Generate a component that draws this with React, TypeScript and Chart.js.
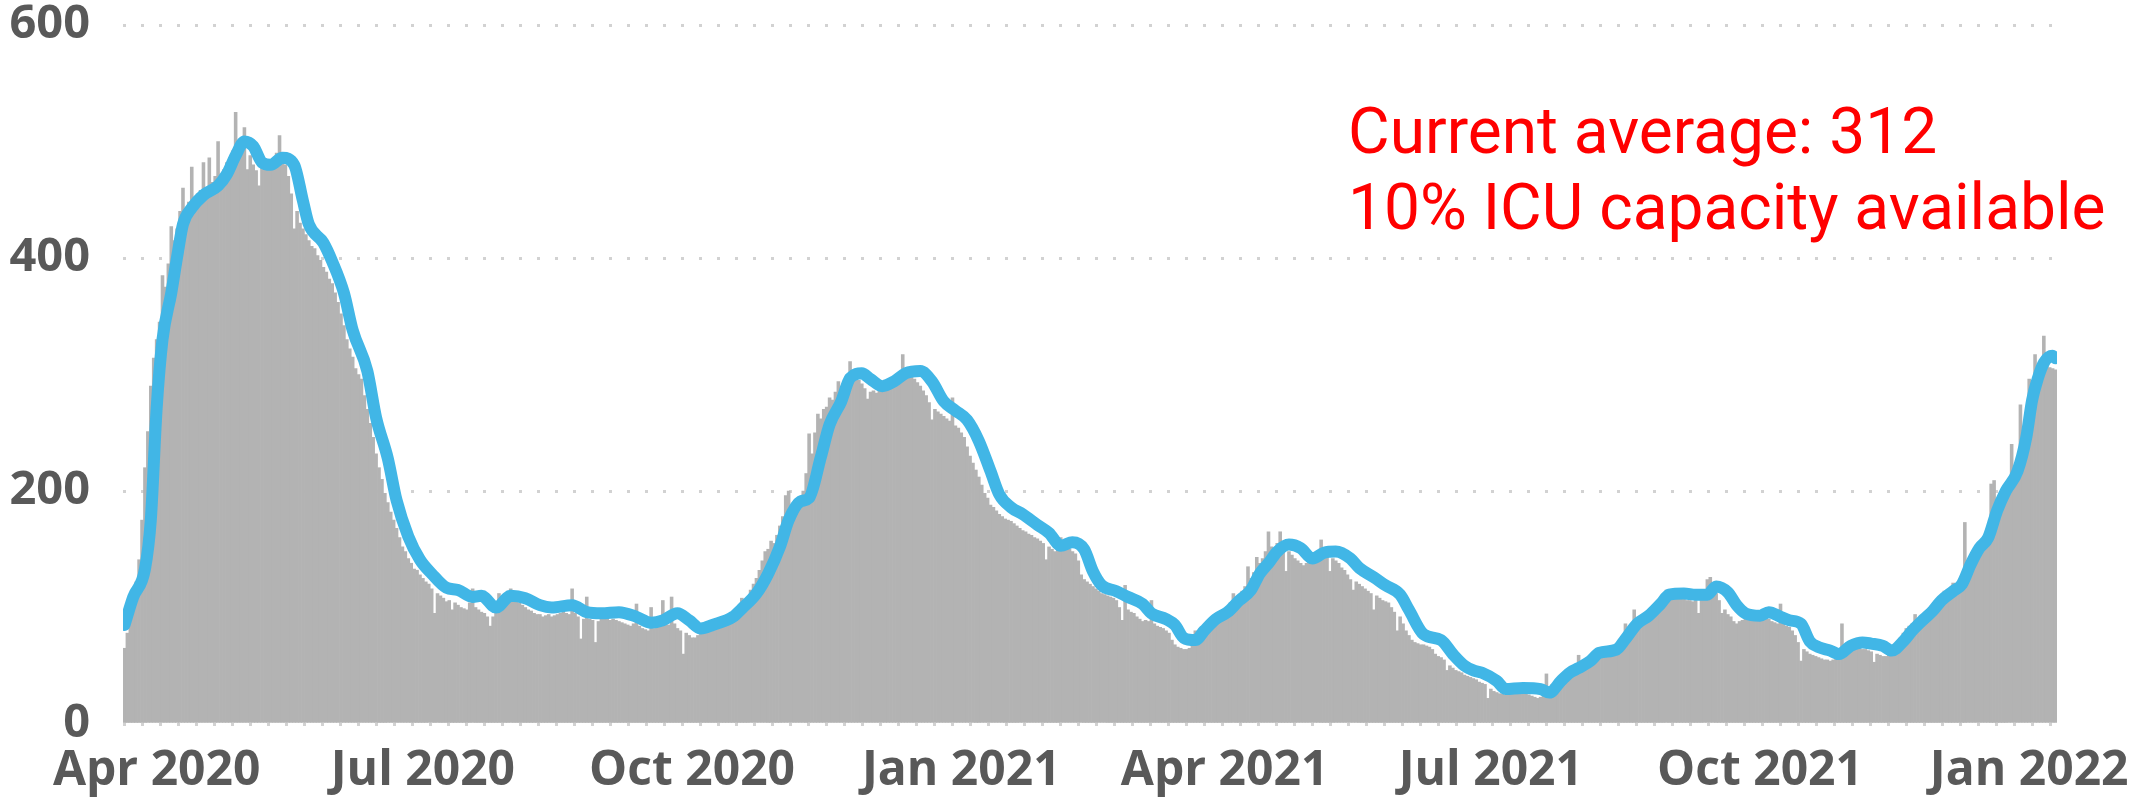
import React, { useEffect, useRef } from 'react';
import { Chart, registerables } from 'chart.js';

Chart.register(...registerables);

// Day 0 = 2020-03-21, one bar per day through 2022-01-10
const dailyValues: number[] = [
  65, 78, 101, 108, 122, 141, 175, 220, 251, 290,
  314, 330, 345, 385, 375, 395, 427, 415, 425, 440,
  460, 442, 448, 478, 450, 455, 458, 482, 460, 486,
  465, 470, 500, 472, 476, 482, 486, 492, 525, 500,
  494, 512, 476, 488, 480, 475, 462, 478, 480, 476,
  478, 482, 490, 505, 484, 480, 470, 455, 425, 440,
  430, 425, 420, 415, 410, 408, 402, 398, 392, 388,
  382, 378, 370, 362, 352, 342, 330, 322, 315, 305,
  300, 296, 282, 270, 258, 246, 232, 220, 210, 198,
  190, 182, 175, 168, 160, 152, 148, 142, 138, 133,
  132, 128, 125, 122, 120, 116, 95, 112, 110, 108,
  105, 106, 98, 104, 102, 100, 99, 98, 104, 116,
  100, 98, 96, 95, 92, 84, 92, 95, 112, 104,
  106, 108, 116, 108, 105, 104, 102, 100, 98, 97,
  95, 94, 94, 92, 93, 94, 92, 93, 94, 95,
  96, 95, 94, 116, 95, 92, 73, 90, 109, 90,
  89, 70, 88, 90, 90, 91, 89, 90, 89, 88,
  87, 86, 85, 84, 86, 103, 84, 82, 81, 80,
  100, 82, 84, 86, 106, 88, 85, 109, 86, 82,
  80, 60, 78, 76, 74, 74, 76, 77, 78, 80,
  80, 82, 84, 85, 86, 87, 88, 90, 94, 98,
  102, 108, 104, 108, 115, 120, 125, 132, 140, 148,
  150, 157, 155, 162, 170, 178, 196, 200, 185, 190,
  190, 192, 200, 215, 249, 232, 250, 266, 262, 270,
  272, 280, 278, 285, 294, 290, 292, 298, 311, 296,
  298, 295, 292, 288, 279, 285, 286, 284, 288, 290,
  292, 294, 296, 298, 300, 302, 317, 305, 300, 298,
  296, 293, 290, 286, 282, 276, 261, 270, 268, 266,
  264, 262, 260, 280, 256, 254, 250, 246, 238, 230,
  224, 218, 212, 205, 198, 194, 188, 186, 183, 180,
  178, 176, 175, 174, 172, 170, 168, 166, 165, 163,
  162, 160, 159, 157, 155, 141, 152, 150, 148, 150,
  160, 150, 149, 150, 148, 146, 140, 128, 124, 122,
  120, 118, 116, 114, 112, 111, 110, 109, 108, 106,
  100, 89, 119, 98, 96, 95, 92, 90, 88, 89,
  88, 106, 86, 84, 83, 82, 80, 78, 72, 68,
  66, 65, 64, 64, 65, 72, 80, 76, 82, 84,
  86, 88, 90, 93, 92, 95, 98, 100, 104, 112,
  108, 110, 114, 118, 135, 125, 130, 143, 138, 142,
  148, 165, 152, 150, 155, 165, 150, 131, 148, 145,
  142, 140, 138, 136, 138, 140, 142, 144, 146, 158,
  145, 144, 131, 142, 140, 138, 134, 132, 128, 124,
  115, 122, 120, 118, 116, 114, 112, 98, 110, 108,
  106, 105, 104, 100, 96, 80, 92, 86, 80, 76,
  72, 70, 69, 68, 68, 67, 66, 64, 60, 58,
  57, 55, 46, 50, 48, 46, 45, 44, 42, 41,
  40, 39, 38, 36, 35, 34, 22, 30, 28, 27,
  26, 26, 25, 25, 26, 27, 28, 27, 26, 26,
  25, 24, 23, 22, 23, 26, 43, 30, 34, 36,
  38, 40, 42, 44, 45, 47, 48, 59, 50, 52,
  54, 56, 58, 58, 58, 59, 59, 60, 61, 62,
  62, 68, 72, 86, 78, 84, 98, 88, 90, 92,
  94, 96, 100, 102, 104, 106, 108, 115, 108, 108,
  107, 108, 108, 107, 106, 106, 105, 106, 95, 108,
  112, 124, 126, 118, 112, 106, 95, 98, 94, 92,
  88, 86, 88, 89, 90, 89, 90, 89, 90, 92,
  91, 92, 90, 88, 87, 86, 103, 86, 84, 83,
  80, 76, 70, 54, 64, 62, 60, 59, 58, 57,
  56, 55, 55, 54, 55, 56, 58, 86, 64, 65,
  66, 66, 65, 65, 64, 64, 63, 62, 53, 60,
  59, 58, 58, 60, 63, 66, 70, 74, 78, 82,
  84, 86, 94, 88, 90, 93, 96, 100, 102, 106,
  106, 108, 114, 110, 112, 121, 116, 118, 122, 173,
  140, 136, 138, 142, 146, 150, 152, 160, 206, 209,
  180, 185, 190, 195, 200, 240, 215, 222, 274, 250,
  260, 296, 280, 317, 300, 305, 333, 310, 306, 305, 304,
];

// 7-day average, read at these day indexes
const avgDays: number[] = [
  0, 3, 7, 9, 11, 13, 16, 18, 20, 23, 27, 32, 35, 38, 41, 44, 47, 50, 54, 58,
  61, 63, 68, 71, 75, 78, 83, 86, 90, 93, 97, 101, 105, 110, 114, 119, 122, 127, 132, 137,
  142, 146, 153, 158, 163, 169, 175, 180, 184, 189, 193, 197, 201, 208, 211, 216, 220, 224, 227, 231,
  234, 238, 241, 245, 248, 252, 255, 259, 263, 267, 272, 276, 280, 284, 288, 292, 296, 299, 303, 307,
  312, 316, 320, 324, 328, 331, 334, 339, 343, 348, 351, 356, 359, 362, 366, 369, 373, 377, 381, 385,
  388, 391, 394, 398, 402, 406, 410, 414, 419, 422, 427, 431, 436, 439, 444, 450, 454, 458, 461, 464,
  469, 472, 478, 484, 487, 491, 494, 497, 501, 504, 510, 513, 517, 521, 525, 528, 533, 537, 541, 544,
  548, 551, 554, 559, 562, 566, 569, 573, 576, 579, 583, 586, 590, 594, 597, 601, 604, 608, 611, 615,
  618, 621, 625, 628, 631, 634, 637, 640, 643, 647, 650, 652, 654, 656, 659, 660,
];
const avgValues: number[] = [
  85, 109, 133, 175, 271, 330, 370, 401, 429, 443, 454, 462, 472, 488, 500, 496, 482, 480, 486, 480,
  449, 429, 413, 397, 370, 338, 303, 263, 228, 192, 161, 141, 129, 117, 115, 109, 110, 100, 110, 108,
  102, 100, 102, 96, 95, 96, 92, 87, 89, 95, 89, 82, 85, 92, 99, 112, 129, 152, 175, 191,
  194, 229, 257, 277, 297, 301, 296, 290, 294, 301, 303, 294, 277, 269, 261, 243, 217, 197, 186, 180,
  171, 164, 153, 156, 150, 131, 119, 114, 109, 103, 95, 90, 85, 74, 72, 80, 90, 96, 106, 115,
  129, 138, 148, 154, 151, 142, 147, 148, 142, 134, 126, 119, 111, 98, 77, 72, 60, 50, 46, 44,
  37, 30, 31, 30, 27, 37, 44, 48, 54, 61, 64, 73, 86, 93, 103, 111, 112, 111, 111, 118,
  113, 102, 95, 93, 96, 92, 89, 86, 71, 66, 63, 60, 67, 70, 69, 67, 63, 71, 80, 90,
  97, 106, 114, 120, 137, 151, 160, 183, 200, 217, 246, 278, 297, 310, 316, 314,
];

const tickDays: number[] = [11, 102, 194, 286, 376, 467, 559, 651];
const tickLabels: string[] = [
  'Apr 2020', 'Jul 2020', 'Oct 2020', 'Jan 2021',
  'Apr 2021', 'Jul 2021', 'Oct 2021', 'Jan 2022',
];
const annotationLines: string[] = ['Current average: 312', '10% ICU capacity available'];

const FONT_FAMILY = '"Open Sans", "Noto Sans", sans-serif';
const Y_TICK_FONT = { family: FONT_FAMILY, size: 47, weight: 'bold' as const, lineHeight: 1 };
const X_TICK_FONT = { family: FONT_FAMILY, size: 48, weight: 'bold' as const, lineHeight: 1 };

export default function App() {
  const ref = useRef<HTMLCanvasElement>(null);

  useEffect(() => {
    document.body.style.margin = '0';
    let chart: Chart | null = null;
    let cancelled = false;

    const annotation = {
      id: 'annotationText',
      afterDraw(c: any) {
        const ctx = c.ctx;
        ctx.save();
        ctx.font = '64px Roboto';
        ctx.fillStyle = '#ff0000';
        ctx.textAlign = 'left';
        ctx.textBaseline = 'alphabetic';
        annotationLines.forEach((t, i) => ctx.fillText(t, 1348, 153 + i * 76));
        ctx.restore();
      },
    };

    const build = () => {
      if (cancelled || !ref.current) return;
      chart = new Chart(ref.current, {
        type: 'bar',
        data: {
          datasets: [
            {
              type: 'line',
              data: avgDays.map((d, i) => ({ x: d, y: avgValues[i] })),
              borderColor: '#41b6e6',
              borderWidth: 12,
              pointRadius: 0,
              cubicInterpolationMode: 'monotone',
              borderJoinStyle: 'round',
              borderCapStyle: 'round',
              fill: false,
              order: 0,
            } as any,
            {
              type: 'bar',
              data: dailyValues.map((v, i) => ({ x: i, y: v })),
              backgroundColor: '#b3b3b3',
              borderWidth: 0,
              barPercentage: 1,
              categoryPercentage: 1,
              order: 1,
            } as any,
          ],
        },
        options: {
          responsive: false,
          animation: false,
          layout: { autoPadding: false, padding: { top: 25, right: 94, left: 0, bottom: 0 } },
          plugins: {
            legend: { display: false },
            tooltip: { enabled: false },
          },
          scales: {
            x: {
              type: 'linear',
              min: -0.5,
              max: dailyValues.length - 0.5,
              offset: false,
              grid: { display: false },
              border: { display: false },
              afterBuildTicks: (scale: any) => {
                scale.ticks = tickDays.map((v) => ({ value: v }));
              },
              afterFit: (scale: any) => {
                scale.height = 74;
                scale.paddingLeft = 0;
                scale.paddingRight = 0;
              },
              ticks: {
                autoSkip: false,
                maxRotation: 0,
                minRotation: 0,
                padding: 15,
                color: '#595959',
                font: X_TICK_FONT,
                callback: (v: any) => {
                  const i = tickDays.indexOf(Number(v));
                  return i >= 0 ? tickLabels[i] : '';
                },
              },
            } as any,
            y: {
              min: 0,
              max: 600,
              afterFit: (scale: any) => {
                scale.width = 123;
                scale.paddingTop = 0;
                scale.paddingBottom = 0;
              },
              grid: { color: '#d2d2d2', lineWidth: 3, drawTicks: false, borderDash: [3, 15] },
              border: { display: false, dash: [3, 15] },
              ticks: {
                stepSize: 200,
                padding: 33,
                color: '#595959',
                font: Y_TICK_FONT,
              },
            } as any,
          },
        },
        plugins: [annotation],
      });
    };

    const fontsReady = (document as any).fonts
      ? Promise.all([
          (document as any).fonts.load('64px Roboto'),
          (document as any).fonts.load('bold 48px "Open Sans"'),
        ]).catch(() => null)
      : Promise.resolve(null);
    fontsReady.then(build);

    return () => {
      cancelled = true;
      if (chart) chart.destroy();
    };
  }, []);

  return <canvas ref={ref} width={2151} height={798} style={{ display: 'block' }} />;
}
